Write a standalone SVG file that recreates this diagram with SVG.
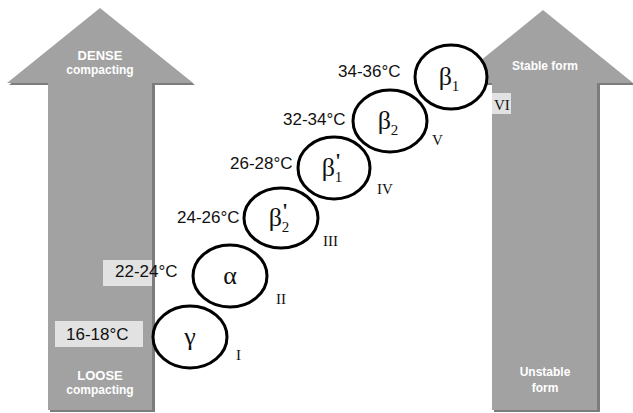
<svg xmlns="http://www.w3.org/2000/svg" width="633" height="413" viewBox="0 0 633 413">
<style>
.shadow{fill:#7c7c7c}
.arrow{fill:#a2a2a2}
.wl{font-family:"Liberation Sans",Arial,sans-serif;font-weight:bold;fill:#ffffff;text-anchor:middle}
.box{fill:#e2e2e2}
.temp{font-family:"Liberation Sans",Arial,sans-serif;font-size:17px;fill:#111}
.phase{fill:#ffffff;stroke:#000;stroke-width:3}
.greek{font-family:"Liberation Serif","Times New Roman",serif;font-size:26px;fill:#111;text-anchor:middle}
.sub{font-size:15px}
.pr{font-size:20px;font-weight:bold}
.rom{font-family:"Liberation Serif","Times New Roman",serif;font-size:15px;fill:#111}
</style>
<rect width="633" height="413" fill="#ffffff"/>
<g id="arrow-left">
<path class="shadow" d="M101 10 L195 85 L155 85 L155 412 L50 412 L50 85 L9 85 Z"/>
<path class="arrow" d="M100 8 L193 83 L152 83 L152 410 L48 410 L48 83 L7 83 Z"/>
<text class="wl" x="100" y="60" font-size="13">DENSE</text>
<text class="wl" x="100" y="74" font-size="12">compacting</text>
<text class="wl" x="100" y="380" font-size="13">LOOSE</text>
<text class="wl" x="100" y="394" font-size="12">compacting</text>
</g>
<g id="arrow-right">
<path class="shadow" d="M544 12 L635 85 L600 85 L600 412 L494 412 L494 85 L455 85 Z"/>
<path class="arrow" d="M543 10 L633 83 L597 83 L597 410 L492 410 L492 83 L453 83 Z"/>
<text class="wl" x="545" y="70" font-size="12">Stable form</text>
<text class="wl" x="545" y="376" font-size="12">Unstable</text>
<text class="wl" x="545" y="392" font-size="12">form</text>
<rect class="box" x="492" y="93" width="19" height="21"/>
<text class="rom" x="494" y="110">VI</text>
</g>
<g id="labels">
<rect class="box" x="55" y="321" width="88" height="26"/>
<text class="temp" x="66" y="340">16-18°C</text>
<rect class="box" x="103" y="260" width="49" height="26"/>
<text class="temp" x="115" y="277">22-24°C</text>
<text class="temp" x="177" y="223">24-26°C</text>
<text class="temp" x="230" y="169">26-28°C</text>
<text class="temp" x="283" y="125">32-34°C</text>
<text class="temp" x="338" y="77">34-36°C</text>
</g>
<g id="phase-gamma">
<ellipse class="phase" cx="190" cy="337" rx="37" ry="31"/>
<text class="greek" x="190" y="345">γ</text>
<text class="rom" x="236" y="360">I</text>
</g>
<g id="phase-alpha">
<ellipse class="phase" cx="230" cy="276" rx="37" ry="31"/>
<text class="greek" x="230" y="284">α</text>
<text class="rom" x="276" y="304">II</text>
</g>
<g id="phase-beta2p">
<ellipse class="phase" cx="281" cy="218" rx="37" ry="30"/>
<text class="greek" x="279" y="226">β<tspan class="sub" dy="6">2</tspan><tspan class="pr" dx="-7" dy="-14">'</tspan></text>
<text class="rom" x="323" y="246">III</text>
</g>
<g id="phase-beta1p">
<ellipse class="phase" cx="334" cy="168" rx="36" ry="31"/>
<text class="greek" x="332" y="176">β<tspan class="sub" dy="6">1</tspan><tspan class="pr" dx="-7" dy="-14">'</tspan></text>
<text class="rom" x="377" y="194">IV</text>
</g>
<g id="phase-beta2">
<ellipse class="phase" cx="390" cy="121" rx="37" ry="31"/>
<text class="greek" x="388" y="129">β<tspan class="sub" dy="6">2</tspan></text>
<text class="rom" x="432" y="145">V</text>
</g>
<g id="phase-beta1">
<ellipse class="phase" cx="451" cy="77" rx="36" ry="32"/>
<text class="greek" x="449" y="85">β<tspan class="sub" dy="6">1</tspan></text>
</g>
<g id="connectors"></g>
</svg>
